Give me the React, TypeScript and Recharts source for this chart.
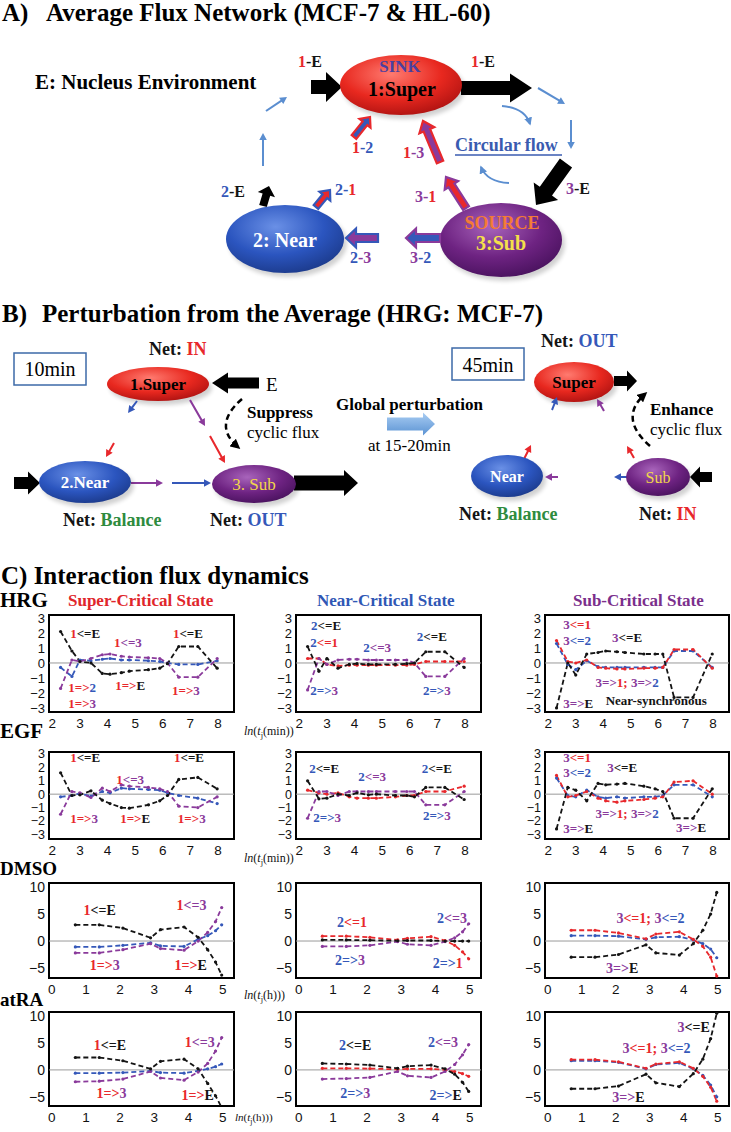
import React from "react";
import { LineChart, Line, XAxis, YAxis, ReferenceLine, ReferenceArea, ReferenceDot } from "recharts";

const RED = "#e8282c";
const BLUE = "#3558b9";
const PURPLE = "#8a3a9b";
const BLACK = "#141414";
const GREEN = "#2e8b3e";
const SERIF = "'Liberation Serif', 'Times New Roman', serif";
const SANS = "'Liberation Sans', Arial, sans-serif";

// ln(t) in minutes (MCF-7: HRG, EGF) and in hours (HL-60: DMSO, atRA)
const lnMin = [2.3, 2.71, 3.0, 3.4, 3.81, 4.09, 4.5, 4.79, 5.48, 5.89, 6.17, 6.58, 7.27, 7.97];
const lnHour = [0.69, 1.39, 2.08, 2.89, 3.18, 3.87, 4.28, 4.56, 4.79, 4.97];

const minTicks = [2, 3, 4, 5, 6, 7, 8];
const hourTicks = [0, 1, 2, 3, 4, 5];
const smallYTicks = [-3, -2, -1, 0, 1, 2, 3];
const bigYTicks = [-5, 0, 5, 10];

// HRG
const hrgSuperE = [2.1, 0.8, 0.1, 0.0, -0.7, -0.75, -0.65, -0.55, -0.45, -0.35, -0.05, 1.1, 1.1, -0.35];
const hrgSuperNear = [-0.3, -0.9, 0.2, 0.15, 0.25, 0.3, 0.2, 0.2, 0.15, 0.1, 0.0, -0.1, -0.1, 0.15];
const hrgSuperSub = [-1.7, 0.2, 0.1, 0.3, 0.55, 0.6, 0.45, 0.4, 0.35, 0.3, 0.0, -0.95, -0.95, 0.3];
const hrgNearE = [1.1, -0.55, 0.3, -0.35, -0.1, -0.05, -0.1, -0.1, -0.1, -0.05, 0.0, 0.75, 0.75, -0.3];
const hrgNearSuper = [0.3, 0.3, -0.1, -0.2, -0.15, -0.15, -0.15, -0.15, -0.15, -0.15, -0.1, 0.1, 0.1, 0.1];
const hrgNearSub = [-1.8, 0.3, -0.1, 0.2, 0.25, 0.25, 0.2, 0.2, 0.2, 0.2, 0.0, -0.9, -0.9, 0.3];
const hrgSubE = [-3.0, 0.0, -0.8, 0.6, 0.7, 0.8, 0.75, 0.7, 0.6, 0.6, 0.6, -2.3, -2.3, 0.6];
const hrgSubSuper = [1.5, 0.1, 0.0, 0.2, -0.3, -0.35, -0.4, -0.4, -0.35, -0.35, -0.3, 0.9, 0.9, -0.35];
const hrgSubNear = [1.3, -0.1, -0.45, 0.15, -0.25, -0.3, -0.3, -0.3, -0.3, -0.3, -0.3, 0.8, 0.8, -0.3];

// EGF
const egfSuperE = [1.6, -0.1, -0.05, 0.25, -0.45, -0.7, -1.0, -1.05, -0.8, -0.5, -0.1, 1.1, 1.25, 0.4];
const egfSuperNear = [-0.2, -0.1, 0.05, -0.15, 0.2, 0.1, 0.45, 0.4, 0.35, 0.3, 0.1, -0.1, -0.3, -0.7];
const egfSuperSub = [-1.5, 0.2, 0.1, -0.25, 0.45, 0.2, 0.7, 0.6, 0.5, 0.4, 0.2, -0.9, -1.0, -0.2];
const egfNearE = [1.0, -0.35, -0.3, 0.0, -0.1, 0.1, -0.05, 0.0, -0.1, -0.1, -0.2, 0.5, 0.5, -0.4];
const egfNearSuper = [0.3, 0.1, 0.0, 0.1, -0.2, -0.3, -0.3, -0.3, -0.2, -0.1, -0.1, 0.2, 0.2, 0.6];
const egfNearSub = [-1.8, 0.2, 0.2, -0.1, 0.2, 0.2, 0.2, 0.2, 0.2, 0.2, 0.2, -0.8, -0.8, 0.2];
const egfSubE = [-2.6, 0.5, 0.3, -0.5, 0.8, 0.7, 0.75, 0.8, 0.6, 0.4, 0.2, -1.8, -1.8, 0.4];
const egfSubSuper = [1.4, -0.2, -0.1, 0.2, -0.3, -0.5, -0.6, -0.5, -0.4, -0.3, -0.2, 0.9, 1.0, 0.0];
const egfSubNear = [1.2, -0.1, -0.2, 0.3, -0.2, -0.3, -0.2, -0.3, -0.2, -0.2, -0.1, 0.7, 0.7, -0.2];

// DMSO
const dmsoSuperE = [3.0, 3.0, 2.4, 0.6, 2.1, 2.6, 0.7, -1.6, -3.9, -6.3];
const dmsoSuperNear = [-1.1, -1.1, -0.8, -0.35, -0.9, -1.0, 0.3, 1.0, 1.9, 3.0];
const dmsoSuperSub = [-2.2, -2.2, -1.6, -0.5, -1.4, -1.7, 0.0, 1.6, 3.6, 6.2];
const dmsoNearE = [0.2, 0.2, 0.15, 0.05, 0.1, 0.1, 0.0, 0.0, 0.0, 0.0];
const dmsoNearSuper = [0.9, 0.9, 0.7, 0.2, 0.5, 0.8, 0.1, -0.8, -2.0, -3.3];
const dmsoNearSub = [-1.0, -1.0, -0.8, -0.1, -0.6, -0.8, -0.1, 0.6, 1.7, 3.2];
const dmsoSubE = [-3.0, -3.0, -2.5, -0.7, -2.2, -2.6, -0.5, 2.0, 5.0, 9.0];
const dmsoSubSuper = [2.0, 2.0, 1.5, 0.4, 1.3, 1.7, 0.3, -1.0, -3.0, -6.5];
const dmsoSubNear = [1.0, 1.0, 0.9, 0.3, 0.7, 0.8, 0.2, -0.5, -1.5, -3.1];

// atRA
const atraSuperE = [2.3, 2.3, 1.7, 0.2, 1.6, 2.0, 0.2, -2.5, -4.8, -7.0];
const atraSuperNear = [-0.6, -0.6, -0.5, -0.2, -0.5, -0.6, -0.2, 0.2, 0.6, 1.1];
const atraSuperSub = [-2.2, -2.1, -1.7, -0.3, -1.5, -1.9, -0.4, 1.2, 3.5, 6.0];
const atraNearE = [1.2, 1.1, 0.9, 0.3, 0.7, 0.9, 0.2, -0.8, -2.3, -4.0];
const atraNearSuper = [0.3, 0.3, 0.25, 0.1, 0.2, 0.2, 0.0, -0.3, -0.7, -1.2];
const atraNearSub = [-1.7, -1.6, -1.4, -0.3, -1.1, -1.4, -0.3, 1.0, 2.8, 4.7];
const atraSubE = [-3.5, -3.5, -3.0, -0.8, -2.4, -3.1, -0.7, 2.0, 5.8, 10.5];
const atraSubSuper = [1.9, 1.9, 1.5, 0.3, 1.1, 1.5, 0.3, -1.2, -3.2, -5.8];
const atraSubNear = [1.7, 1.7, 1.4, 0.2, 1.0, 1.3, 0.2, -1.0, -2.8, -5.0];

type Part = [string, string];
type Note = { x: number; y: number; parts: Part[] };

const lt = (n: string, cn: string, m: string, cm: string): Part[] => [[n, cn], ["<=" + m, cm]];
const gt = (n: string, cn: string, m: string, cm: string): Part[] => [[n + "=>", cn], [m, cm]];

const hrgSuperNotes: Note[] = [
  { x: 3.19, y: 2.0, parts: lt("1", RED, "E", BLACK) },
  { x: 4.74, y: 1.4, parts: lt("1", RED, "3", PURPLE) },
  { x: 6.91, y: 2.0, parts: lt("1", RED, "E", BLACK) },
  { x: 3.08, y: -1.6, parts: gt("1", RED, "2", BLUE) },
  { x: 4.82, y: -1.47, parts: gt("1", RED, "E", BLACK) },
  { x: 6.84, y: -1.8, parts: gt("1", RED, "3", PURPLE) },
  { x: 3.08, y: -2.67, parts: gt("1", RED, "3", PURPLE) },
];
const hrgNearNotes: Note[] = [
  { x: 2.97, y: 2.53, parts: lt("2", BLUE, "E", BLACK) },
  { x: 2.9, y: 1.4, parts: lt("2", BLUE, "1", RED) },
  { x: 4.82, y: 1.07, parts: lt("2", BLUE, "3", PURPLE) },
  { x: 6.8, y: 1.8, parts: lt("2", BLUE, "E", BLACK) },
  { x: 2.9, y: -1.8, parts: gt("2", BLUE, "3", PURPLE) },
  { x: 6.98, y: -1.8, parts: gt("2", BLUE, "3", PURPLE) },
];
const hrgSubNotes: Note[] = [
  { x: 3.05, y: 2.6, parts: lt("3", PURPLE, "1", RED) },
  { x: 3.05, y: 1.53, parts: lt("3", PURPLE, "2", BLUE) },
  { x: 4.87, y: 1.73, parts: lt("3", PURPLE, "E", BLACK) },
  { x: 4.87, y: -1.3, parts: [["3=>", PURPLE], ["1; ", RED], ["3=>", PURPLE], ["2", BLUE]] },
  { x: 3.09, y: -2.67, parts: gt("3", PURPLE, "E", BLACK) },
  { x: 5.93, y: -2.47, parts: [["Near-synchronous", BLACK]] },
];
const egfSuperNotes: Note[] = [
  { x: 3.19, y: 2.8, parts: lt("1", RED, "E", BLACK) },
  { x: 4.82, y: 1.1, parts: lt("1", RED, "3", PURPLE) },
  { x: 6.95, y: 2.8, parts: lt("1", RED, "E", BLACK) },
  { x: 3.15, y: -1.78, parts: gt("1", RED, "3", PURPLE) },
  { x: 5.0, y: -1.78, parts: gt("1", RED, "E", BLACK) },
  { x: 7.05, y: -1.78, parts: gt("1", RED, "3", PURPLE) },
];
const egfNearNotes: Note[] = [
  { x: 2.9, y: 1.95, parts: lt("2", BLUE, "E", BLACK) },
  { x: 4.64, y: 1.35, parts: lt("2", BLUE, "3", PURPLE) },
  { x: 6.98, y: 1.95, parts: lt("2", BLUE, "E", BLACK) },
  { x: 3.01, y: -1.7, parts: gt("2", BLUE, "3", PURPLE) },
  { x: 6.98, y: -1.56, parts: gt("2", BLUE, "3", PURPLE) },
];
const egfSubNotes: Note[] = [
  { x: 3.05, y: 2.8, parts: lt("3", PURPLE, "1", RED) },
  { x: 3.05, y: 1.65, parts: lt("3", PURPLE, "2", BLUE) },
  { x: 4.69, y: 2.03, parts: lt("3", PURPLE, "E", BLACK) },
  { x: 4.87, y: -1.4, parts: [["3=>", PURPLE], ["1; ", RED], ["3=>", PURPLE], ["2", BLUE]] },
  { x: 3.09, y: -2.55, parts: gt("3", PURPLE, "E", BLACK) },
  { x: 7.2, y: -2.46, parts: gt("3", PURPLE, "E", BLACK) },
];
const dmsoSuperNotes: Note[] = [
  { x: 1.4, y: 5.7, parts: lt("1", RED, "E", BLACK) },
  { x: 4.09, y: 6.6, parts: lt("1", RED, "3", PURPLE) },
  { x: 1.55, y: -4.4, parts: gt("1", RED, "3", PURPLE) },
  { x: 4.06, y: -4.4, parts: gt("1", RED, "E", BLACK) },
];
const dmsoNearNotes: Note[] = [
  { x: 1.56, y: 3.5, parts: lt("2", BLUE, "1", RED) },
  { x: 4.48, y: 4.3, parts: lt("2", BLUE, "3", PURPLE) },
  { x: 1.5, y: -3.5, parts: gt("2", BLUE, "3", PURPLE) },
  { x: 4.36, y: -4.1, parts: gt("2", BLUE, "1", RED) },
];
const dmsoSubNotes: Note[] = [
  { x: 3.02, y: 4.3, parts: [["3", PURPLE], ["<=1; ", RED], ["3", PURPLE], ["<=2", BLUE]] },
  { x: 2.19, y: -5.0, parts: gt("3", PURPLE, "E", BLACK) },
];
const atraSuperNotes: Note[] = [
  { x: 1.7, y: 4.6, parts: lt("1", RED, "E", BLACK) },
  { x: 4.33, y: 5.2, parts: lt("1", RED, "3", PURPLE) },
  { x: 1.75, y: -4.3, parts: gt("1", RED, "3", PURPLE) },
  { x: 4.27, y: -4.6, parts: gt("1", RED, "E", BLACK) },
];
const atraNearNotes: Note[] = [
  { x: 1.65, y: 4.6, parts: lt("2", BLUE, "E", BLACK) },
  { x: 4.22, y: 5.2, parts: lt("2", BLUE, "3", PURPLE) },
  { x: 1.65, y: -4.3, parts: gt("2", BLUE, "3", PURPLE) },
  { x: 4.3, y: -4.6, parts: gt("2", BLUE, "E", BLACK) },
];
const atraSubNotes: Note[] = [
  { x: 4.29, y: 8.0, parts: lt("3", PURPLE, "E", BLACK) },
  { x: 3.2, y: 4.1, parts: [["3", PURPLE], ["<=1; ", RED], ["3", PURPLE], ["<=2", BLUE]] },
  { x: 2.37, y: -5.0, parts: gt("3", PURPLE, "E", BLACK) },
];

type Series = { key: string; color: string; values: number[] };

const colX = [49, 296, 545];
const colW = [185, 185, 184];

const rowCfg = [
  { top: 615, h: 97, xs: lnMin, xDomain: [1.88, 8.58], yDomain: [-3.27, 3.2], xTicks: minTicks, yTicks: smallYTicks, yFont: 13, noteSize: 13 },
  { top: 752, h: 87, xs: lnMin, xDomain: [1.88, 8.58], yDomain: [-3.35, 3.15], xTicks: minTicks, yTicks: smallYTicks, yFont: 12.5, noteSize: 13 },
  { top: 883, h: 95, xs: lnHour, xDomain: [-0.08, 5.33], yDomain: [-6.85, 10.75], xTicks: hourTicks, yTicks: bigYTicks, yFont: 14, noteSize: 14 },
  { top: 1012, h: 94, xs: lnHour, xDomain: [-0.08, 5.33], yDomain: [-6.7, 10.75], xTicks: hourTicks, yTicks: bigYTicks, yFont: 14, noteSize: 14 },
];

const superSeries = (e: number[], n: number[], s: number[]): Series[] => [
  { key: "blue", color: BLUE, values: n },
  { key: "purple", color: PURPLE, values: s },
  { key: "black", color: BLACK, values: e },
];
const nearSeries = (e: number[], u: number[], s: number[]): Series[] => [
  { key: "red", color: RED, values: u },
  { key: "purple", color: PURPLE, values: s },
  { key: "black", color: BLACK, values: e },
];
const subSeries = (e: number[], u: number[], n: number[]): Series[] => [
  { key: "blue", color: BLUE, values: n },
  { key: "red", color: RED, values: u },
  { key: "black", color: BLACK, values: e },
];

const grid: { series: Series[]; notes: Note[] }[][] = [
  [
    { series: superSeries(hrgSuperE, hrgSuperNear, hrgSuperSub), notes: hrgSuperNotes },
    { series: nearSeries(hrgNearE, hrgNearSuper, hrgNearSub), notes: hrgNearNotes },
    { series: subSeries(hrgSubE, hrgSubSuper, hrgSubNear), notes: hrgSubNotes },
  ],
  [
    { series: superSeries(egfSuperE, egfSuperNear, egfSuperSub), notes: egfSuperNotes },
    { series: nearSeries(egfNearE, egfNearSuper, egfNearSub), notes: egfNearNotes },
    { series: subSeries(egfSubE, egfSubSuper, egfSubNear), notes: egfSubNotes },
  ],
  [
    { series: superSeries(dmsoSuperE, dmsoSuperNear, dmsoSuperSub), notes: dmsoSuperNotes },
    { series: nearSeries(dmsoNearE, dmsoNearSuper, dmsoNearSub), notes: dmsoNearNotes },
    { series: subSeries(dmsoSubE, dmsoSubSuper, dmsoSubNear), notes: dmsoSubNotes },
  ],
  [
    { series: superSeries(atraSuperE, atraSuperNear, atraSuperSub), notes: atraSuperNotes },
    { series: nearSeries(atraNearE, atraNearSuper, atraNearSub), notes: atraNearNotes },
    { series: subSeries(atraSubE, atraSubSuper, atraSubNear), notes: atraSubNotes },
  ],
];

const fmtTick = (v: number) => (v < 0 ? "\u2212" + Math.abs(v) : String(v));

function NoteText({ cx, cy, parts, size }: any) {
  if (cx == null || cy == null) return null;
  return (
    <text x={cx} y={cy} textAnchor="middle" dominantBaseline="central" fontFamily={SERIF} fontWeight="bold" fontSize={size}>
      {parts.map((p: Part, i: number) => (
        <tspan key={i} fill={p[1]}>{p[0]}</tspan>
      ))}
    </text>
  );
}

function Panel({ left, top, w, h, xs, xDomain, yDomain, xTicks, yTicks, yFont, noteSize, series, notes }: any) {
  const YW = 36, MT = 9, MR = 4, XH = 22;
  const data = xs.map((x: number, i: number) => {
    const row: Record<string, number> = { x };
    series.forEach((s: Series) => { row[s.key] = s.values[i]; });
    return row;
  });
  return (
    <div style={{ position: "absolute", left: left - YW, top: top - MT }}>
      <LineChart width={YW + w + MR} height={MT + h + XH} data={data} margin={{ top: MT, right: MR, bottom: 0, left: 0 }}>
        <XAxis type="number" dataKey="x" domain={xDomain} ticks={xTicks} allowDataOverflow interval={0}
          axisLine={false} tickLine={false} tickSize={4} tickMargin={2} height={XH}
          tick={{ fontSize: 13.5, fill: "#111", fontFamily: SANS }} />
        <YAxis type="number" domain={yDomain} ticks={yTicks} allowDataOverflow interval={0} width={YW}
          axisLine={false} tickLine={false} tickSize={3} tickMargin={1} tickFormatter={fmtTick}
          tick={{ fontSize: yFont, fill: "#111", fontFamily: SANS }} />
        <ReferenceLine y={0} stroke="#9a9a9a" strokeWidth={1} />
        {series.map((s: Series) => (
          <Line key={s.key} type="linear" dataKey={s.key} stroke={s.color} strokeWidth={1.8} strokeDasharray="5 3"
            dot={{ r: 1.6, fill: s.color, stroke: s.color, strokeWidth: 0 }} activeDot={false} isAnimationActive={false} />
        ))}
        <ReferenceArea x1={xDomain[0]} x2={xDomain[1]} y1={yDomain[0]} y2={yDomain[1]} fill="#fff" fillOpacity={0}
          stroke="#000" strokeWidth={2} ifOverflow="visible" />
        {notes.map((n: Note, i: number) => (
          <ReferenceDot key={i} x={n.x} y={n.y} r={0} ifOverflow="visible"
            shape={(p: any) => <NoteText cx={p.cx} cy={p.cy} parts={n.parts} size={noteSize} />} />
        ))}
      </LineChart>
    </div>
  );
}

function arrowPts(x1: number, y1: number, x2: number, y2: number, sw: number, hw: number, hl: number) {
  const dx = x2 - x1, dy = y2 - y1, L = Math.hypot(dx, dy);
  const ux = dx / L, uy = dy / L, px = -uy, py = ux;
  const bx = x2 - ux * hl, by = y2 - uy * hl;
  const pts = [
    [x1 + (px * sw) / 2, y1 + (py * sw) / 2],
    [bx + (px * sw) / 2, by + (py * sw) / 2],
    [bx + (px * hw) / 2, by + (py * hw) / 2],
    [x2, y2],
    [bx - (px * hw) / 2, by - (py * hw) / 2],
    [bx - (px * sw) / 2, by - (py * sw) / 2],
    [x1 - (px * sw) / 2, y1 - (py * sw) / 2],
  ];
  return pts.map((p) => p[0].toFixed(1) + "," + p[1].toFixed(1)).join(" ");
}

function Block({ a, fill = "#000", stroke = "none", sw2 = 0 }: any) {
  const [x1, y1, x2, y2, sw, hw, hl] = a;
  return <polygon points={arrowPts(x1, y1, x2, y2, sw, hw, hl)} fill={fill} stroke={stroke} strokeWidth={sw2} strokeLinejoin="miter" />;
}

function Thin({ a, color }: any) {
  const [x1, y1, x2, y2] = a;
  return <polygon points={arrowPts(x1, y1, x2, y2, 2, 7.5, 7)} fill={color} />;
}

function Lbl({ x, y, parts, size = 16, weight = "bold", anchor = "start" }: any) {
  return (
    <text x={x} y={y} fontSize={size} fontWeight={weight} fontFamily={SERIF} textAnchor={anchor}>
      {parts.map((p: Part, i: number) => (
        <tspan key={i} fill={p[1]}>{p[0]}</tspan>
      ))}
    </text>
  );
}

function Ell({ cx, cy, rx, ry, g }: any) {
  return (
    <g>
      <ellipse cx={cx + 3} cy={cy + 4} rx={rx} ry={ry} fill="#000" opacity={0.18} filter="url(#blur)" />
      <ellipse cx={cx} cy={cy} rx={rx} ry={ry} fill={`url(#${g})`} />
    </g>
  );
}

function LnLabel({ x, y, unit, size = 12 }: any) {
  return (
    <text x={x} y={y} fontSize={size} fontFamily={SERIF} fill="#111">
      <tspan fontStyle="italic">ln</tspan>
      <tspan>(</tspan>
      <tspan fontStyle="italic">t</tspan>
      <tspan fontSize={size * 0.7} dy={3}>j</tspan>
      <tspan dy={-3}>{unit}</tspan>
    </text>
  );
}

const LB = "#5b8ed0";
const YEL = "#f4e04a";

function Diagram() {
  return (
    <svg width={731} height={1132} style={{ position: "absolute", left: 0, top: 0 }}>
      <defs>
        <radialGradient id="gRed" cx="0.42" cy="0.32" r="0.75">
          <stop offset="0" stopColor="#ff7b70" />
          <stop offset="0.55" stopColor="#e8281f" />
          <stop offset="1" stopColor="#a81010" />
        </radialGradient>
        <radialGradient id="gBlue" cx="0.42" cy="0.32" r="0.75">
          <stop offset="0" stopColor="#6a90e6" />
          <stop offset="0.55" stopColor="#2b55bf" />
          <stop offset="1" stopColor="#1a3785" />
        </radialGradient>
        <radialGradient id="gPurple" cx="0.42" cy="0.32" r="0.75">
          <stop offset="0" stopColor="#a864bb" />
          <stop offset="0.55" stopColor="#6e2382" />
          <stop offset="1" stopColor="#45105a" />
        </radialGradient>
        <linearGradient id="gArrow" x1="0" y1="0" x2="0" y2="1">
          <stop offset="0" stopColor="#a9cdf3" />
          <stop offset="1" stopColor="#5b93d3" />
        </linearGradient>
        <filter id="blur"><feGaussianBlur stdDeviation="2" /></filter>
        <marker id="mLB" viewBox="0 0 10 10" refX="8" refY="5" markerWidth="4" markerHeight="4" orient="auto">
          <path d="M0,0 L10,5 L0,10 z" fill={LB} />
        </marker>
        <marker id="mBK" viewBox="0 0 10 10" refX="7" refY="5" markerWidth="4" markerHeight="4" orient="auto">
          <path d="M0,0 L10,5 L0,10 z" fill="#000" />
        </marker>
      </defs>

      {/* A) */}
      <text x={2} y={21} fontSize={25} fontWeight="bold" fontFamily={SERIF}>A)</text>
      <text x={46} y={21} fontSize={25} fontWeight="bold" fontFamily={SERIF}>Average Flux Network (MCF-7 &amp; HL-60)</text>
      <text x={35} y={89} fontSize={21} fontWeight="bold" fontFamily={SERIF}>E: Nucleus Environment</text>

      <Block a={[311, 87, 342, 87, 14, 30, 16]} />
      <Block a={[461, 88, 532, 88, 14, 29, 22]} />
      <Block a={[566, 163, 536, 205, 15, 30, 17]} />
      <Block a={[263, 206, 269, 186, 8, 18, 9]} />

      <Thin a={[266, 111, 287, 97]} color={LB} />
      <Thin a={[538, 88, 565, 104]} color={LB} />
      <Thin a={[571, 120, 571, 149]} color={LB} />
      <Thin a={[263, 166, 263, 133]} color={LB} />
      <path d="M502,106 Q525,108 530,124" fill="none" stroke={LB} strokeWidth={2} markerEnd="url(#mLB)" />
      <path d="M509,183 Q487,182 481,167" fill="none" stroke={LB} strokeWidth={2} markerEnd="url(#mLB)" />

      <Ell cx={401} cy={85} rx={61} ry={30} g="gRed" />
      <Ell cx={285} cy={239} rx={59} ry={34} g="gBlue" />
      <Ell cx={501} cy={240} rx={61} ry={37} g="gPurple" />

      <Block a={[354, 137, 370, 117, 6, 14, 8]} fill={BLUE} stroke={RED} sw2={2.2} />
      <Block a={[440, 162, 423, 121, 7, 16, 10]} fill={PURPLE} stroke={RED} sw2={2.2} />
      <Block a={[466, 208, 446, 177, 7, 16, 10]} fill={RED} stroke={PURPLE} sw2={2.2} />
      <Block a={[316, 207, 330, 190, 6, 14, 8]} fill={RED} stroke={BLUE} sw2={2.2} />
      <Block a={[378, 238, 346, 238, 8, 19, 10]} fill={PURPLE} stroke={BLUE} sw2={2.2} />
      <Block a={[440, 238, 406, 238, 8, 19, 10]} fill={BLUE} stroke={PURPLE} sw2={2.2} />

      <text x={400} y={72} fontSize={17} fontWeight="bold" fontFamily={SERIF} fill="#4a3fa0" textAnchor="middle">SINK</text>
      <text x={402} y={96} fontSize={20} fontWeight="bold" fontFamily={SERIF} fill="#000" textAnchor="middle">1:Super</text>
      <text x={285} y={247} fontSize={20} fontWeight="bold" fontFamily={SERIF} fill="#fff" textAnchor="middle">2: Near</text>
      <text x={502} y={229} fontSize={18} fontWeight="bold" fontFamily={SERIF} fill="#f47b35" textAnchor="middle">SOURCE</text>
      <text x={501} y={250} fontSize={20} fontWeight="bold" fontFamily={SERIF} fill={YEL} textAnchor="middle">3:Sub</text>

      <Lbl x={298} y={67} parts={[["1", RED], ["-E", BLACK]]} />
      <Lbl x={471} y={67} parts={[["1", RED], ["-E", BLACK]]} />
      <Lbl x={352} y={153} parts={[["1", RED], ["-2", BLUE]]} />
      <Lbl x={403} y={158} parts={[["1", RED], ["-3", PURPLE]]} />
      <Lbl x={221} y={197} parts={[["2", BLUE], ["-E", BLACK]]} />
      <Lbl x={335} y={195} parts={[["2-", BLUE], ["1", RED]]} />
      <Lbl x={415} y={202} parts={[["3-", PURPLE], ["1", RED]]} />
      <Lbl x={566} y={194} parts={[["3", PURPLE], ["-E", BLACK]]} />
      <Lbl x={350} y={263} parts={[["2", BLUE], ["-3", PURPLE]]} />
      <Lbl x={410} y={263} parts={[["3", PURPLE], ["-2", BLUE]]} />
      <text x={455} y={151} fontSize={18} fontWeight="bold" fontFamily={SERIF} fill="#3a5bb0">Circular flow</text>
      <line x1={455} y1={155} x2={562} y2={155} stroke="#3a5bb0" strokeWidth={1.5} />

      {/* B) */}
      <text x={2} y={322} fontSize={25} fontWeight="bold" fontFamily={SERIF}>B)</text>
      <text x={42} y={322} fontSize={25} fontWeight="bold" fontFamily={SERIF}>Perturbation from the Average (HRG: MCF-7)</text>

      <Lbl x={149} y={355} size={18} parts={[["Net: ", BLACK], ["IN", RED]]} />
      <rect x={14} y={353} width={72} height={32} fill="none" stroke="#3d6aa8" strokeWidth={1.5} />
      <text x={50} y={376} fontSize={20} fontFamily={SERIF} textAnchor="middle">10min</text>

      <Block a={[259, 383, 212, 383, 11, 21, 16]} />
      <text x={266} y={391} fontSize={19} fontFamily={SERIF}>E</text>
      <Ell cx={158} cy={384} rx={51} ry={17} g="gRed" />
      <text x={158} y={390} fontSize={17} fontWeight="bold" fontFamily={SERIF} textAnchor="middle">1.Super</text>

      <Thin a={[137, 401, 128, 413]} color={BLUE} />
      <Thin a={[190, 400, 205, 426]} color={PURPLE} />
      <Thin a={[210, 436, 225, 463]} color={RED} />
      <Thin a={[114, 443, 106, 457]} color={RED} />
      <Thin a={[131, 483, 163, 483]} color={PURPLE} />
      <Thin a={[172, 483, 211, 483]} color={BLUE} />

      <path d="M242,399 Q212,425 238,447" fill="none" stroke="#000" strokeWidth={2.5} strokeDasharray="6 4" markerEnd="url(#mBK)" />
      <text x={247} y={418} fontSize={17} fontWeight="bold" fontFamily={SERIF}>Suppress</text>
      <text x={247} y={438} fontSize={17} fontFamily={SERIF}>cyclic flux</text>

      <Block a={[14, 483, 40, 483, 12, 23, 12]} />
      <Ell cx={85} cy={482} rx={46} ry={21} g="gBlue" />
      <text x={85} y={488} fontSize={17} fontWeight="bold" fontFamily={SERIF} fill="#fff" textAnchor="middle">2.Near</text>
      <Block a={[294, 483, 358, 483, 15, 26, 14]} />
      <Ell cx={254} cy={484} rx={42} ry={19} g="gPurple" />
      <text x={254} y={490} fontSize={17} fontFamily={SERIF} fill="#f2d64a" textAnchor="middle">3. Sub</text>

      <Lbl x={63} y={526} size={18} parts={[["Net: ", BLACK], ["Balance", GREEN]]} />
      <Lbl x={210} y={526} size={18} parts={[["Net: ", BLACK], ["OUT", BLUE]]} />

      <text x={336} y={410} fontSize={17} fontWeight="bold" fontFamily={SERIF}>Global perturbation</text>
      <Block a={[387, 424, 435, 424, 13, 23, 12]} fill="url(#gArrow)" />
      <text x={368} y={451} fontSize={17} fontFamily={SERIF}>at 15-20min</text>

      <Lbl x={541} y={347} size={18} parts={[["Net: ", BLACK], ["OUT", BLUE]]} />
      <rect x={452} y={348} width={72} height={32} fill="none" stroke="#3d6aa8" strokeWidth={1.5} />
      <text x={488} y={372} fontSize={20} fontFamily={SERIF} textAnchor="middle">45min</text>

      <Block a={[614, 381, 637, 381, 10, 21, 10]} />
      <Ell cx={574} cy={382} rx={40} ry={20} g="gRed" />
      <text x={574} y={388} fontSize={17} fontWeight="bold" fontFamily={SERIF} textAnchor="middle">Super</text>
      <Thin a={[552, 410, 557, 397]} color={BLUE} />
      <Thin a={[604, 411, 597, 399]} color={PURPLE} />

      <path d="M650,446 Q618,418 645,394" fill="none" stroke="#000" strokeWidth={2.5} strokeDasharray="6 4" markerEnd="url(#mBK)" />
      <text x={650} y={415} fontSize={17} fontWeight="bold" fontFamily={SERIF}>Enhance</text>
      <text x={650} y={435} fontSize={17} fontFamily={SERIF}>cyclic flux</text>

      <Thin a={[524, 459, 531, 445]} color={RED} />
      <Ell cx={507} cy={476} rx={36} ry={21} g="gBlue" />
      <text x={507} y={482} fontSize={16} fontWeight="bold" fontFamily={SERIF} fill="#fff" textAnchor="middle">Near</text>
      <Thin a={[558, 477, 545, 477]} color={PURPLE} />
      <Thin a={[634, 458, 627, 446]} color={RED} />
      <Thin a={[627, 477, 614, 477]} color={BLUE} />
      <Block a={[712, 477, 690, 477, 10, 21, 10]} />
      <Ell cx={658} cy={477} rx={32} ry={19} g="gPurple" />
      <text x={658} y={483} fontSize={16} fontFamily={SERIF} fill="#f2d64a" textAnchor="middle">Sub</text>

      <Lbl x={459} y={520} size={18} parts={[["Net: ", BLACK], ["Balance", GREEN]]} />
      <Lbl x={639} y={520} size={18} parts={[["Net: ", BLACK], ["IN", RED]]} />

      {/* C) */}
      <text x={1} y={584} fontSize={25} fontWeight="bold" fontFamily={SERIF}>C) Interaction flux dynamics</text>
      <text x={0} y={607} fontSize={21} fontWeight="bold" fontFamily={SERIF}>HRG</text>
      <text x={68} y={606} fontSize={17} fontWeight="bold" fontFamily={SERIF} fill="#e0262b">Super-Critical State</text>
      <text x={317} y={606} fontSize={17} fontWeight="bold" fontFamily={SERIF} fill="#2f57b5">Near-Critical State</text>
      <text x={573} y={606} fontSize={17} fontWeight="bold" fontFamily={SERIF} fill="#7b2f8c">Sub-Critical State</text>
      <text x={0} y={738} fontSize={21} fontWeight="bold" fontFamily={SERIF}>EGF</text>
      <text x={0} y={875} fontSize={19} fontWeight="bold" fontFamily={SERIF}>DMSO</text>
      <text x={0} y={1006} fontSize={19} fontWeight="bold" fontFamily={SERIF}>atRA</text>

      <LnLabel x={244} y={735} unit="(min))" />
      <LnLabel x={244} y={862} unit="(min))" />
      <LnLabel x={244} y={999} unit="(h)))" />
      <LnLabel x={235} y={1121} unit="(h)))" size={11} />
    </svg>
  );
}

export default function App() {
  return (
    <div style={{ position: "relative", width: 731, height: 1132, background: "#fff", overflow: "hidden", fontFamily: SERIF }}>
      <style>{"body{margin:0}"}</style>
      <Diagram />
      {rowCfg.map((r, ri) =>
        grid[ri].map((cell, ci) => (
          <Panel key={ri + "-" + ci} left={colX[ci]} top={r.top} w={colW[ci]} h={r.h} xs={r.xs}
            xDomain={r.xDomain} yDomain={r.yDomain} xTicks={r.xTicks} yTicks={r.yTicks} yFont={r.yFont}
            noteSize={r.noteSize} series={cell.series} notes={cell.notes} />
        ))
      )}
    </div>
  );
}
